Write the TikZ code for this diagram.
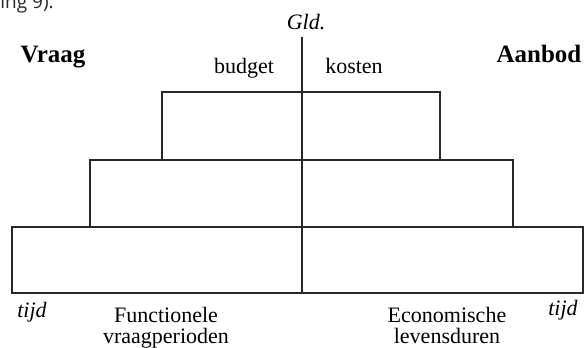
\documentclass[tikz,border=0pt]{standalone}
\usepackage{fontspec}
\setmainfont{Liberation Serif}
\newfontfamily\pagefont{Open Sans}
\newlength{\labelsize}
\newlength{\sidesize}
\setlength{\labelsize}{11pt}
\setlength{\sidesize}{12.5pt}
\definecolor{linecolor}{RGB}{40,40,40}
\tikzstyle{level} = [draw, linecolor, line width=0.6pt]
\tikzstyle{label} = [inner sep=0, anchor=base, font=\fontsize{\labelsize}{10.5pt}\selectfont, align=center]
\tikzstyle{side} = [inner sep=0, anchor=base, font=\fontsize{\sidesize}{15pt}\selectfont\bfseries]
\begin{document}
\begin{tikzpicture}[
		x=0.5pt, y=-0.5pt
		]
		\useasboundingbox (0,0) rectangle (584,348);
		
		% rest of the page text
		\node[inner sep=0, anchor=base west, font=\pagefont\fontsize{9.5pt}{11pt}\selectfont, text=black!85] (pagetext) at (0,9) {ing 9).};
		
		% the three levels
		\draw[level] (162,92) rectangle (440,160);
		\draw[level] (90,160) rectangle (513,227);
		\draw[level] (12,227) rectangle (583,293);
		
		% money axis
		\node[label] (gld) at (306,29) {\textit{Gld.}};
		\coordinate (axistop) at (302,37);
		\coordinate (axisbottom) at (302,293);
		\draw[level] (axistop) -- (axisbottom);
		
		\node[side] (vraag) at (53,62) {Vraag};
		\node[side] (aanbod) at (539,62) {Aanbod};
		\node[label] (budget) at (244,73) {budget};
		\node[label] (kosten) at (354,73) {kosten};
		
		\node[label] (tijdleft) at (32,317) {\textit{tijd}};
		\node[label] (tijdright) at (563,315) {\textit{tijd}};
		% base of a two line node is its last line
		\node[label] (vraagperioden) at (166,343) {Functionele\\vraagperioden};
		\node[label] (levensduren) at (447,343) {Economische\\levensduren};
		
	\end{tikzpicture}
\end{document}
